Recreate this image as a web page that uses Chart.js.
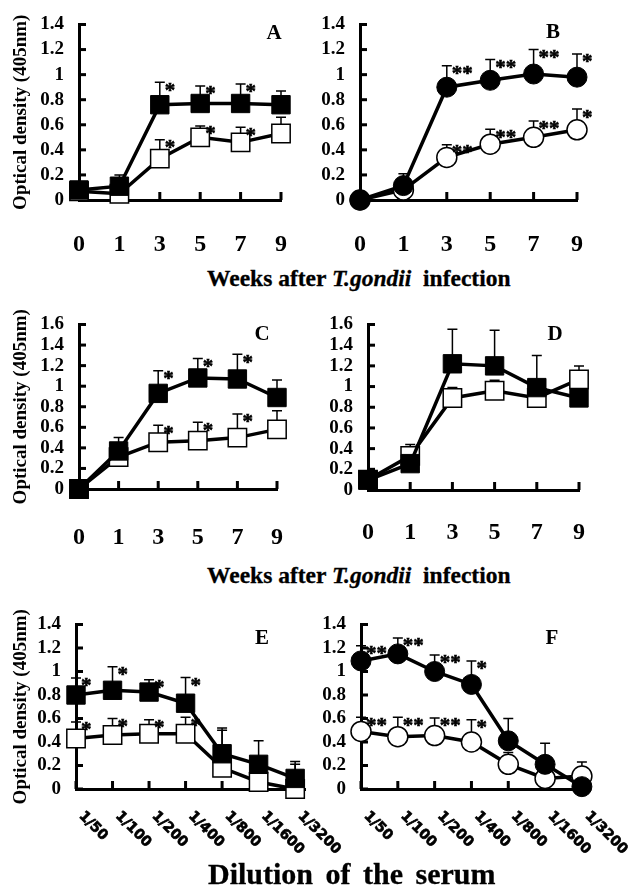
<!DOCTYPE html>
<html><head><meta charset="utf-8">
<script src="https://cdn.jsdelivr.net/npm/chart.js@4.4.0/dist/chart.umd.min.js"></script>
<style>
html,body{margin:0;padding:0;background:#fff;}
body{width:634px;height:885px;position:relative;overflow:hidden;font-family:"Liberation Serif","Times New Roman",serif;}
canvas{position:absolute;}
.t{position:absolute;font-weight:bold;color:#000;white-space:pre;line-height:1;-webkit-text-stroke:0.3px #000;}
.lt{position:absolute;font-weight:bold;color:#000;line-height:1;font-size:21px;transform:translate(-50%,-50%);}
</style></head><body>
<canvas id="cA" width="317" height="262" style="left:0px;top:0px"></canvas>
<canvas id="cB" width="317" height="262" style="left:317px;top:0px"></canvas>
<canvas id="cC" width="317" height="262" style="left:0px;top:300px"></canvas>
<canvas id="cD" width="317" height="262" style="left:317px;top:300px"></canvas>
<canvas id="cE" width="350" height="265" style="left:0px;top:600px"></canvas>
<canvas id="cF" width="317" height="265" style="left:317px;top:600px"></canvas>

<div class="t" style="left:207px;top:267px;font-size:23.5px">Weeks after <i>T.gondii</i>  infection</div>
<div class="t" style="left:207px;top:564px;font-size:23.5px">Weeks after <i>T.gondii</i>  infection</div>
<div class="t" style="left:208px;top:859px;font-size:30px;word-spacing:5px">Dilution of the serum</div>

<div class="lt" style="left:274px;top:32px">A</div>
<div class="lt" style="left:553px;top:31px">B</div>
<div class="lt" style="left:262px;top:333px">C</div>
<div class="lt" style="left:555px;top:333px">D</div>
<div class="lt" style="left:262px;top:637px">E</div>
<div class="lt" style="left:552px;top:637px">F</div>

<script>
// ---------- categories & tick labels ----------
const weeks = ['0','1','3','5','7','9'];
const dilutions = ['1/50','1/100','1/200','1/400','1/800','1/1600','1/3200'];
const yTicks14 = ['0','0.2','0.4','0.6','0.8','1','1.2','1.4'];
const yTicks16 = ['0','0.2','0.4','0.6','0.8','1','1.2','1.4','1.6'];
const yTitle = 'Optical density (405nm)';

// ---------- panel A (squares) ----------
const aFilled      = [0.08, 0.11, 0.76, 0.77, 0.77, 0.76];
const aFilledErr   = [0.02, 0.09, 0.18, 0.14, 0.155, 0.11];
const aFilledStars = ['', '', '*', '*', '*', ''];
const aOpen        = [0.07, 0.05, 0.33, 0.50, 0.46, 0.53];
const aOpenErr     = [0.01, 0.02, 0.15, 0.09, 0.12, 0.13];
const aOpenStars   = ['', '', '*', '*', '*', ''];

// ---------- panel B (circles) ----------
const bFilled      = [0, 0.115, 0.90, 0.955, 1.005, 0.98];
const bFilledErr   = [0, 0.095, 0.17, 0.165, 0.195, 0.185];
const bFilledStars = ['', '', '**', '**', '**', '*'];
const bOpen        = [0, 0.08, 0.34, 0.445, 0.50, 0.56];
const bOpenErr     = [0, 0.05, 0.10, 0.12, 0.13, 0.165];
const bOpenStars   = ['', '', '**', '**', '**', '*'];

// ---------- panel C (squares) ----------
const cFilled      = [0, 0.37, 0.93, 1.08, 1.07, 0.89];
const cFilledErr   = [0, 0.13, 0.22, 0.19, 0.24, 0.17];
const cFilledStars = ['', '', '*', '*', '*', ''];
const cOpen        = [0, 0.31, 0.455, 0.47, 0.50, 0.58];
const cOpenErr     = [0, 0.05, 0.165, 0.18, 0.23, 0.18];
const cOpenStars   = ['', '', '*', '*', '*', ''];

// ---------- panel D (squares) ----------
const dFilled      = [0.095, 0.255, 1.22, 1.20, 0.99, 0.89];
const dFilledErr   = [0.02, 0.05, 0.335, 0.345, 0.31, 0.05];
const dFilledStars = ['', '', '', '', '', ''];
const dOpen        = [0.10, 0.33, 0.89, 0.96, 0.89, 1.07];
const dOpenErr     = [0.02, 0.11, 0.10, 0.10, 0.10, 0.13];
const dOpenStars   = ['', '', '', '', '', ''];

// ---------- panel E (squares) ----------
const eFilled      = [0.80, 0.84, 0.825, 0.73, 0.30, 0.21, 0.09];
const eFilledErr   = [0.145, 0.20, 0.105, 0.22, 0.22, 0.20, 0.145];
const eFilledStars = ['*', '*', '*', '*', '', '', ''];
const eOpen        = [0.43, 0.46, 0.47, 0.47, 0.18, 0.06, 0.0];
const eOpenErr     = [0.14, 0.14, 0.12, 0.14, 0.32, 0.10, 0.21];
const eOpenStars   = ['*', '*', '*', '*', '', '', ''];

// ---------- panel F (circles) ----------
const fFilled      = [1.09, 1.15, 1.00, 0.89, 0.41, 0.21, 0.02];
const fFilledErr   = [0.13, 0.135, 0.14, 0.20, 0.19, 0.18, 0.02];
const fFilledStars = ['**', '**', '**', '*', '', '', ''];
const fOpen        = [0.49, 0.445, 0.455, 0.40, 0.21, 0.09, 0.11];
const fOpenErr     = [0.12, 0.165, 0.15, 0.19, 0.10, 0.05, 0.12];
const fOpenStars   = ['**', '**', '**', '*', '', '', ''];

Chart.defaults.font.family = '"Liberation Serif","Times New Roman",serif';
Chart.defaults.color = '#000';

const decor = {
  id: 'decor',
  beforeDatasetsDraw(chart, args, opts) {
    const ctx = chart.ctx, xs = chart.scales.x, ys = chart.scales.y, ca = chart.chartArea;
    ctx.save();
    ctx.fillStyle = '#000';
    // inward tick marks
    for (let i = 0; i < opts.nx; i++) {
      const px = xs.getPixelForValue(i);
      ctx.fillRect(px - 1.5, ca.bottom - 8, 3, 8);
    }
    ys.ticks.forEach(t => {
      const py = ys.getPixelForValue(t.value);
      ctx.fillRect(ca.left, py - 1.5, 7, 3);
    });
    // error bars (upward)
    ctx.strokeStyle = '#000';
    ctx.lineWidth = 1.5;
    chart.data.datasets.forEach((ds, d) => {
      const meta = chart.getDatasetMeta(d);
      meta.data.forEach((pt, j) => {
        const v = ds.values[j], e = ds.errors[j];
        if (!e) return;
        const top = ys.getPixelForValue(v + e);
        ctx.beginPath();
        ctx.moveTo(pt.x, pt.y);
        ctx.lineTo(pt.x, top);
        ctx.moveTo(pt.x - 5, top);
        ctx.lineTo(pt.x + 5, top);
        ctx.stroke();
      });
    });
    ctx.restore();
  },
  afterDatasetsDraw(chart, args, opts) {
    const ctx = chart.ctx, xs = chart.scales.x, ys = chart.scales.y, ca = chart.chartArea;
    ctx.save();
    ctx.fillStyle = '#000';
    ctx.strokeStyle = '#000';
    ctx.font = 'bold 21px "Liberation Serif", serif';
    ctx.textBaseline = 'middle';
    ctx.textAlign = 'left';
    ctx.lineWidth = 0.6;
    chart.data.datasets.forEach((ds, d) => {
      const meta = chart.getDatasetMeta(d);
      meta.data.forEach((pt, j) => {
        const s = ds.stars[j];
        if (!s) return;
        const top = ys.getPixelForValue(ds.values[j] + ds.errors[j]);
        ctx.fillText(s, pt.x + 5, top + 9);
        ctx.strokeText(s, pt.x + 5, top + 9);
      });
    });
    // rotated dilution labels
    if (opts.rotLabels) {
      ctx.font = 'bold 14px "DejaVu Sans", sans-serif';
      ctx.textBaseline = 'top';
      ctx.textAlign = 'left';
      ctx.lineWidth = 0.7;
      opts.rotLabels.forEach((lab, i) => {
        const px = xs.getPixelForValue(i);
        ctx.save();
        ctx.translate(px + 10, ca.bottom + 20);
        ctx.rotate(Math.PI / 4);
        ctx.fillText(lab, 0, 0);
        ctx.strokeText(lab, 0, 0);
        ctx.restore();
      });
    }
    ctx.restore();
  }
};

function makePanel(p) {
  const cv = p.canvas;
  const linear = p.mode === 'rot';
  const mk = (vals) => linear ? vals.map((v, i) => ({x: i, y: v})) : vals;
  const common = {
    borderColor: '#000', borderWidth: 3.5, tension: 0, clip: false,
    pointStyle: p.marker, pointRadius: p.marker === 'rect' ? 13 : 10,
    pointHoverRadius: p.marker === 'rect' ? 13 : 10,
    pointBorderColor: '#000'
  };
  const datasets = [
    Object.assign({}, common, {
      data: mk(p.filled), values: p.filled, errors: p.filledErr, stars: p.filledStars,
      pointBackgroundColor: '#000', pointBorderWidth: 1
    }),
    Object.assign({}, common, {
      data: mk(p.open), values: p.open, errors: p.openErr, stars: p.openStars,
      pointBackgroundColor: '#fff', pointBorderWidth: 1.5
    })
  ];
  const yW = p.area.L - cv.l;
  const xH = cv.t + cv.h - p.area.B;
  const xScale = linear ? {
    type: 'linear', min: 0, max: p.xMax,
    grid: {display: false}, border: {display: true, width: 3, color: '#000'},
    ticks: {display: false},
    afterFit(s) { s.height = xH; }
  } : {
    type: 'category', offset: false,
    grid: {display: false, drawTicks: false}, border: {display: true, width: 3, color: '#000'},
    ticks: {font: {size: 24, weight: 'bold'}, padding: p.labelPad, maxRotation: 0, minRotation: 0, autoSkip: false},
    afterFit(s) { s.height = xH; }
  };
  const yLabels = p.yLabels;
  new Chart(document.getElementById(p.id), {
    type: 'line',
    data: {labels: p.xLabels, datasets},
    options: {
      responsive: false, animation: false, events: [],
      layout: {padding: {left: 0, bottom: 0, top: p.area.T - cv.t, right: cv.l + cv.w - p.area.R}},
      plugins: {legend: {display: false}, tooltip: {enabled: false},
        decor: {nx: p.xLabels.length, rotLabels: linear ? p.xLabels : null}},
      scales: {
        x: xScale,
        y: {
          type: 'linear', min: 0, max: p.yMax,
          grid: {display: false, drawTicks: false}, border: {display: true, width: 3, color: '#000'},
          ticks: {stepSize: 0.2, autoSkip: false, padding: 15, font: {size: 19, weight: 'bold', lineHeight: 1},
            callback: (v) => yLabels[Math.round(v / 0.2)]},
          title: {display: p.yTitle, text: yTitle, font: {size: 19, weight: 'bold'}, padding: {top: 10, bottom: 0}},
          afterFit(s) { s.width = yW; }
        }
      }
    },
    plugins: [decor]
  });
}

makePanel({id: 'cA', canvas: {l: 0, t: 0, w: 317, h: 262}, area: {L: 79, R: 287, T: 18, B: 200},
  mode: 'cat', xLabels: weeks, yMax: 1.4, yLabels: yTicks14, marker: 'rect', yTitle: true, labelPad: 30,
  filled: aFilled, filledErr: aFilledErr, filledStars: aFilledStars, open: aOpen, openErr: aOpenErr, openStars: aOpenStars});
makePanel({id: 'cB', canvas: {l: 317, t: 0, w: 317, h: 262}, area: {L: 360, R: 577, T: 17, B: 200},
  mode: 'cat', xLabels: weeks, yMax: 1.4, yLabels: yTicks14, marker: 'circle', yTitle: false, labelPad: 30,
  filled: bFilled, filledErr: bFilledErr, filledStars: bFilledStars, open: bOpen, openErr: bOpenErr, openStars: bOpenStars});
makePanel({id: 'cC', canvas: {l: 0, t: 300, w: 317, h: 262}, area: {L: 79, R: 286, T: 322, B: 489},
  mode: 'cat', xLabels: weeks, yMax: 1.6, yLabels: yTicks16, marker: 'rect', yTitle: true, labelPad: 34,
  filled: cFilled, filledErr: cFilledErr, filledStars: cFilledStars, open: cOpen, openErr: cOpenErr, openStars: cOpenStars});
makePanel({id: 'cD', canvas: {l: 317, t: 300, w: 317, h: 262}, area: {L: 368, R: 579, T: 323, B: 490},
  mode: 'cat', xLabels: weeks, yMax: 1.6, yLabels: yTicks16, marker: 'rect', yTitle: false, labelPad: 28,
  filled: dFilled, filledErr: dFilledErr, filledStars: dFilledStars, open: dOpen, openErr: dOpenErr, openStars: dOpenStars});
makePanel({id: 'cE', canvas: {l: 0, t: 600, w: 350, h: 265}, area: {L: 76, R: 305, T: 615, B: 789},
  mode: 'rot', xMax: 6.27, xLabels: dilutions, yMax: 1.4, yLabels: yTicks14, marker: 'rect', yTitle: true,
  filled: eFilled, filledErr: eFilledErr, filledStars: eFilledStars, open: eOpen, openErr: eOpenErr, openStars: eOpenStars});
makePanel({id: 'cF', canvas: {l: 317, t: 600, w: 317, h: 265}, area: {L: 361, R: 590, T: 615, B: 789},
  mode: 'rot', xMax: 6.22, xLabels: dilutions, yMax: 1.4, yLabels: yTicks14, marker: 'circle', yTitle: false,
  filled: fFilled, filledErr: fFilledErr, filledStars: fFilledStars, open: fOpen, openErr: fOpenErr, openStars: fOpenStars});
</script>
</body></html>
